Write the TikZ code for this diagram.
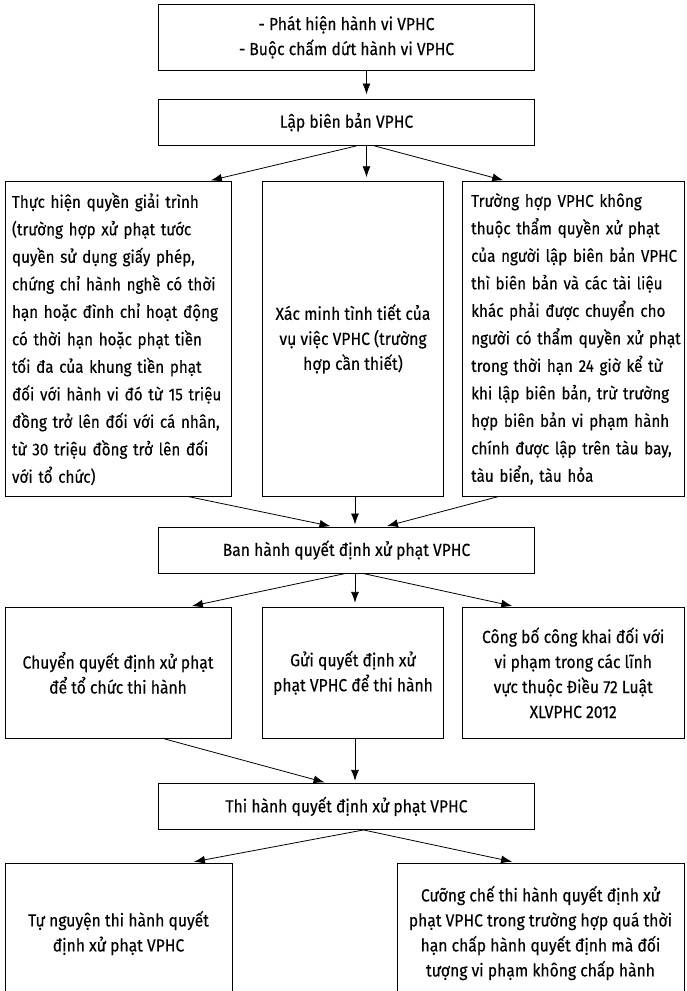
\documentclass[tikz,border=0pt]{standalone}
\usepackage{fontspec}
\setmainfont{Fira Sans}[FakeStretch=0.895,FakeBold=0.3]
\usetikzlibrary{arrows.meta}
\newcommand{\jline}[1]{\makebox[\linewidth][s]{#1}\\}
\tikzset{
  stepbox/.style={draw, rectangle, line width=0.9pt, inner sep=0pt, align=center,
    font=\fontsize{17.5}{25}\selectfont},
  longbox/.style={stepbox, align=left, font=\fontsize{17}{27.5}\selectfont},
  flow/.style={->, line width=0.8pt, shorten >=4pt}
}

\begin{document}
\begin{tikzpicture}[x=1pt,y=-1pt]
    \clip (0,0) rectangle (686,991);
    \begin{scope}[>={Latex[length=11pt,width=8pt]}] %for filled arrow tips

      % defines
      \pgfmathsetmacro\MidX{346.5} % x of the wide boxes
      \pgfmathsetmacro\LeftX{118} % x of left column
      \pgfmathsetmacro\CentX{353} % x of middle column
      \pgfmathsetmacro\RightX{573.2} % x of right column
      \pgfmathsetmacro\RowA{338.9} % y of first three boxes
      \pgfmathsetmacro\RowB{672.8} % y of second three boxes

      % first steps
      \node (detect) at (\MidX,37.3) [stepbox, minimum width=376pt, minimum height=66.7pt]
        {- Phát hiện hành vi VPHC\\- Buộc chấm dứt hành vi VPHC};
      \node (record) at (\MidX,122.2) [stepbox, minimum width=376pt, minimum height=46.5pt]
        {Lập biên bản VPHC};
      \draw[flow] ([xshift=20pt]detect.south) -- ([xshift=20pt]record.north);

      % three boxes after the record
      \node (explain) at (\LeftX,\RowA) [longbox, minimum width=226pt, minimum height=314.3pt, text width=212pt]
        {\jline{Thực hiện quyền giải trình}
         \jline{(trường hợp xử phạt tước}
         \jline{quyền sử dụng giấy phép,}
         \jline{chứng chỉ hành nghề có thời}
         \jline{hạn hoặc đình chỉ hoạt động}
         \jline{có thời hạn hoặc phạt tiền}
         \jline{tối đa của khung tiền phạt}
         \jline{đối với hành vi đó từ 15 triệu}
         \jline{đồng trở lên đối với cá nhân,}
         \jline{từ 30 triệu đồng trở lên đối}
         với tổ chức)};
      \node (verify) at (\CentX,\RowA) [stepbox, minimum width=181pt, minimum height=314.3pt]
        {Xác minh tình tiết của\\vụ việc VPHC (trường\\hợp cần thiết)};
      \node (transfer) at (\RightX,\RowA) [longbox, minimum width=221.5pt, minimum height=314.3pt, text width=204pt]
        {\jline{Trường hợp VPHC không}
         \jline{thuộc thẩm quyền xử phạt}
         \jline{của người lập biên bản VPHC}
         \jline{thì biên bản và các tài liệu}
         \jline{khác phải được chuyển cho}
         \jline{người có thẩm quyền xử phạt}
         \jline{trong thời hạn 24 giờ kể từ}
         \jline{khi lập biên bản, trừ trường}
         \jline{hợp biên bản vi phạm hành}
         \jline{chính được lập trên tàu bay,}
         tàu biển, tàu hỏa};
      \draw[flow] ([xshift=10pt]record.south) -- ([xshift=89pt]explain.north);
      \draw[flow] ([xshift=20pt]record.south) -- ([xshift=13.5pt]verify.north);
      \draw[flow] ([xshift=28pt]record.south) -- ([xshift=-66pt]transfer.north);

      % decision
      \node (decide) at (\MidX,550) [stepbox, minimum width=376pt, minimum height=46pt]
        {Ban hành quyết định xử phạt VPHC};
      \draw[flow, shorten >=2pt] ([xshift=70pt]explain.south) -- ([xshift=-14pt]decide.north);
      \draw[flow, shorten >=2pt] ([xshift=2pt]verify.south) -- ([xshift=8.5pt]decide.north);
      \draw[flow, shorten >=2pt] ([xshift=-74.5pt]transfer.south) -- ([xshift=38.5pt]decide.north);

      % three boxes after the decision
      \node (handover) at (\LeftX,\RowB) [stepbox, minimum width=226pt, minimum height=131pt]
        {Chuyển quyết định xử phạt\\để tổ chức thi hành};
      \node (send) at (\CentX,\RowB) [stepbox, minimum width=181pt, minimum height=131pt]
        {Gửi quyết định xử\\phạt VPHC để thi hành};
      \node (publish) at (\RightX,\RowB) [stepbox, minimum width=221.5pt, minimum height=131pt]
        {Công bố công khai đối với\\vi phạm trong các lĩnh\\vực thuộc Điều 72 Luật\\XLVPHC 2012};
      \draw[flow] ([xshift=-1pt]decide.south) -- ([xshift=70pt]handover.north);
      \draw[flow] ([xshift=8.5pt]decide.south) -- ([xshift=2pt]send.north);
      \draw[flow] ([xshift=16.5pt]decide.south) -- ([xshift=-57pt]publish.north);

      % execution
      \node (execute) at (\MidX,806.4) [stepbox, minimum width=376pt, minimum height=46.2pt]
        {Thi hành quyết định xử phạt VPHC};
      \draw[flow, shorten >=2pt] ([xshift=46pt]handover.south) -- ([xshift=-20pt]execute.north);
      \draw[flow, shorten >=2pt] ([xshift=2pt]send.south) -- ([xshift=8.5pt]execute.north);

      % last two boxes
      \node (voluntary) at (118.5,933) [stepbox, minimum width=227pt, minimum height=140pt]
        {Tự nguyện thi hành quyết\\định xử phạt VPHC};
      \node (enforce) at (540.5,933) [stepbox, minimum width=287pt, minimum height=140pt]
        {Cưỡng chế thi hành quyết định xử\\phạt VPHC trong trường hợp quá thời\\hạn chấp hành quyết định mà đối\\tượng vi phạm không chấp hành};
      \draw[flow] ([xshift=17pt]execute.south) -- ([xshift=71.5pt]voluntary.north);
      \draw[flow] ([xshift=17pt]execute.south) -- ([xshift=-24.5pt]enforce.north);

    \end{scope}
\end{tikzpicture}
\end{document}
